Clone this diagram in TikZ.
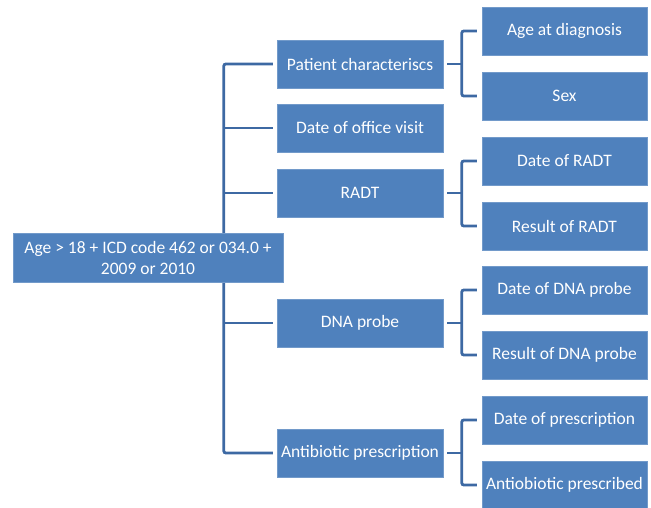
\documentclass[tikz,border=0pt]{standalone}
\usepackage{fontspec}
\setmainfont{Carlito}
\definecolor{boxblue}{HTML}{4F81BD}
\definecolor{lineblue}{HTML}{3D69A3}
\tikzset{
  box/.style={draw=boxblue!80!white, fill=boxblue, text=white, inner sep=0pt,
    minimum height=48pt, align=center, font=\fontsize{17.5}{21}\selectfont},
  midbox/.style={box, minimum width=166pt},
  leafbox/.style={box, minimum width=165pt},
  link/.style={draw=lineblue, line width=2.8pt, rounded corners=2pt}
}

\begin{document}
\begin{tikzpicture}[x=1pt,y=-1pt]
\useasboundingbox (0,0) rectangle (651,507);
% second level
\node[midbox] (pat) at (360,64) {Patient characteriscs};
\node[midbox] (office) at (360,128) {Date of office visit};
\node[midbox] (radt) at (360,193) {RADT};
\node[midbox] (dna) at (360,323) {DNA probe};
\node[midbox] (anti) at (360,453) {Antibiotic prescription};
% third level
\node[leafbox] (age) at (564.5,31) {Age at diagnosis};
\node[leafbox] (sex) at (564.5,96) {Sex};
\node[leafbox] (dradt) at (564.5,161) {Date of RADT};
\node[leafbox] (rradt) at (564.5,226) {Result of RADT};
\node[leafbox] (ddna) at (564.5,290) {Date of DNA probe};
\node[leafbox] (rdna) at (564.5,355) {Result of DNA probe};
\node[leafbox] (dpre) at (564.5,420) {Date of prescription};
\node[leafbox] (apre) at (564.5,485) {Antiobiotic prescribed};
% trunk
\draw[link] ([xshift=-4pt]pat.west) -- ++(-49,0) |- ([xshift=-4pt]anti.west);
\draw[link] ([xshift=-4pt]office.west) -- ++(-50,0);
\draw[link] ([xshift=-4pt]radt.west) -- ++(-50,0);
\draw[link] ([xshift=-4pt]dna.west) -- ++(-50,0);
% branches
\foreach \p/\a/\b in {pat/age/sex, radt/dradt/rradt, dna/ddna/rdna, anti/dpre/apre}{
  \draw[link] ([xshift=4pt]\p.east) -- ++(16,0);
  \draw[link] ([xshift=-5pt]\a.west) -- ++(-15,0) |- ([xshift=-5pt]\b.west);
}
% root
\node[box, minimum width=270pt, minimum height=49pt] (root) at (148,257.5)
  {Age > 18 + ICD code 462 or 034.0 +\\2009 or 2010};
\end{tikzpicture}
\end{document}
